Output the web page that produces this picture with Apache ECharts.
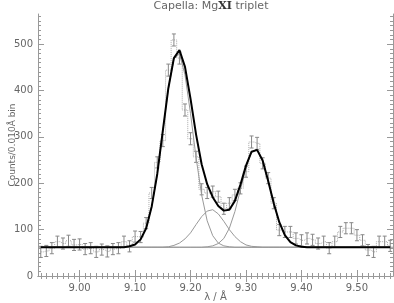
<!DOCTYPE html>
<html>
<head>
<meta charset="utf-8">
<script src="https://cdn.jsdelivr.net/npm/echarts@6/dist/echarts.min.js"></script>
<style>html,body{margin:0;background:#fff}#main{width:394px;height:303px}</style>
</head>
<body>
<div id="main"></div>
<script>
// wavelength bin centres (A), 0.010 A bins
var lambda = [8.93, 8.94, 8.95, 8.96, 8.97, 8.98, 8.99, 9.00, 9.01, 9.02, 9.03, 9.04, 9.05, 9.06, 9.07, 9.08,
              9.09, 9.10, 9.11, 9.12, 9.13, 9.14, 9.15, 9.16, 9.17, 9.18, 9.19, 9.20, 9.21, 9.22, 9.23, 9.24,
              9.25, 9.26, 9.27, 9.28, 9.29, 9.30, 9.31, 9.32, 9.33, 9.34, 9.35, 9.36, 9.37, 9.38, 9.39, 9.40,
              9.41, 9.42, 9.43, 9.44, 9.45, 9.46, 9.47, 9.48, 9.49, 9.50, 9.51, 9.52, 9.53, 9.54, 9.55, 9.56];
// observed counts per bin
var counts = [52, 54, 60, 74, 70, 76, 67, 68, 58, 60, 52, 57, 53, 58, 60, 74,
              64, 85, 84, 114, 179, 245, 292, 444, 509, 470, 358, 296, 257, 187, 179, 182,
              171, 145, 157, 175, 189, 225, 289, 286, 243, 211, 157, 99, 95, 95, 81, 77,
              81, 78, 70, 74, 60, 74, 95, 103, 103, 88, 77, 56, 52, 74, 74, 65];
// 1-sigma errors
var errs = [12, 12, 12, 12, 12, 12, 12, 12, 12, 12, 12, 12, 12, 12, 12, 12,
            12, 12, 12, 12, 12, 12, 13, 13, 13, 13, 13, 13, 12, 12, 12, 12,
            12, 12, 12, 12, 12, 12, 13, 13, 12, 12, 12, 12, 12, 12, 12, 12,
            12, 12, 12, 12, 12, 12, 12, 12, 12, 12, 12, 12, 12, 12, 12, 12];
// total fitted model
var model = [62, 62, 62, 62, 62, 62, 62, 62, 62, 62, 62, 62, 62, 62, 62, 62,
             64, 68, 79, 103, 150, 220, 313, 405, 470, 487, 451, 382, 305, 241, 198, 170,
             151, 141, 143, 162, 197, 238, 268, 272, 249, 205, 157, 116, 88, 73, 66, 63,
             62, 62, 62, 62, 62, 62, 62, 62, 62, 62, 62, 62, 62, 62, 62, 62];
// line components (on top of continuum): resonance, intercombination, forbidden
var lineR = [62, 62, 62, 62, 62, 62, 62, 62, 62, 62, 62, 62, 62, 62, 62, 62,
             64, 68, 79, 103, 149, 220, 312, 404, 468, 479, 434, 350, 255, 175, 119, 87,
             71, 65, 63, 62, 62, 62, 62, 62, 62, 62, 62, 62, 62, 62, 62, 62,
             62, 62, 62, 62, 62, 62, 62, 62, 62, 62, 62, 62, 62, 62, 62, 62];
var lineI = [62, 62, 62, 62, 62, 62, 62, 62, 62, 62, 62, 62, 62, 62, 62, 62,
             62, 62, 62, 62, 62, 62, 62, 63, 66, 71, 80, 93, 111, 128, 140, 143,
             134, 118, 100, 85, 74, 67, 64, 63, 62, 62, 62, 62, 62, 62, 62, 62,
             62, 62, 62, 62, 62, 62, 62, 62, 62, 62, 62, 62, 62, 62, 62, 62];
var lineF = [62, 62, 62, 62, 62, 62, 62, 62, 62, 62, 62, 62, 62, 62, 62, 62,
             62, 62, 62, 62, 62, 62, 62, 62, 62, 62, 62, 62, 62, 62, 63, 65,
             70, 81, 103, 139, 186, 234, 267, 272, 248, 205, 157, 116, 88, 73, 66, 63,
             62, 62, 62, 62, 62, 62, 62, 62, 62, 62, 62, 62, 62, 62, 62, 62];
var continuum = 62;

var xRange = [8.925, 9.565];
var yRange = [0, 565];
var xTicks = [9.0, 9.1, 9.2, 9.3, 9.4, 9.5];
var yTicks = [0, 100, 200, 300, 400, 500];

var xMinor = [], yMinor = [];
for (var i = 893; i <= 956; i++) xMinor.push(i / 100);
for (var j = 0; j <= 560; j += 10) yMinor.push(j);

var axCol = '#999';
var txtCol = '#666';
var font = 'DejaVu Sans';

function xAxis(g, pos, ticks, len, withLabel) {
    return {
        type: 'value', gridIndex: g, position: pos, min: xRange[0], max: xRange[1],
        axisLine: {show: len > 3, lineStyle: {color: axCol, width: 1}},
        axisTick: {show: true, inside: true, length: len, customValues: ticks, lineStyle: {color: axCol}},
        axisLabel: withLabel ? {show: true, customValues: ticks, margin: 7, color: txtCol, fontSize: 10, fontFamily: font,
            align: 'center', formatter: function (v) { return v.toFixed(2); }} : {show: false},
        splitLine: {show: false},
        name: withLabel ? 'λ / Å' : '', nameLocation: 'middle', nameGap: 16, nameMoveOverlap: false,
        nameTextStyle: {color: txtCol, fontSize: 10, fontFamily: font}
    };
}
function yAxis(g, pos, ticks, len, withLabel) {
    return {
        type: 'value', gridIndex: g, position: pos, min: yRange[0], max: yRange[1],
        axisLine: {show: len > 3, lineStyle: {color: axCol, width: 1}},
        axisTick: {show: true, inside: true, length: len, customValues: ticks, lineStyle: {color: axCol}},
        axisLabel: withLabel ? {show: true, customValues: ticks, margin: 5, color: txtCol, fontSize: 10, fontFamily: font,
            verticalAlign: 'middle'} : {show: false},
        splitLine: {show: false},
        name: withLabel ? 'Counts/0.010Å bin' : '', nameLocation: 'middle', nameGap: 21, nameMoveOverlap: false,
        nameTextStyle: {color: txtCol, fontSize: 9, fontFamily: font}
    };
}

var box = {left: 38, right: 1, top: 14, bottom: 27, containLabel: false, outerBoundsMode: 'none'};
var myChart = echarts.init(document.getElementById('main'), null, {renderer: 'canvas'});

var histData = [], errData = [], modelData = [], rData = [], iData = [], fData = [];
for (var k = 0; k < lambda.length; k++) {
    histData.push([lambda[k], counts[k]]);
    errData.push([lambda[k], counts[k], errs[k]]);
    modelData.push([lambda[k], model[k]]);
    rData.push([lambda[k], lineR[k]]);
    iData.push([lambda[k], lineI[k]]);
    fData.push([lambda[k], lineF[k]]);
}

function thin(name, data) {
    return {name: name, type: 'line', data: data, symbol: 'none', smooth: false, z: 3,
        lineStyle: {color: '#999', width: 1}, silent: true};
}

var option = {
    backgroundColor: '#fff',
    animation: false,
    title: {
        text: '{a|Capella: Mg}{b|XI}{a| triplet}',
        left: 211, top: 1, padding: 0, textAlign: 'center',
        textStyle: {fontWeight: 'normal', rich: {
            a: {color: txtCol, fontSize: 11, fontFamily: font, fontWeight: 'normal'},
            b: {color: '#333', fontSize: 11, fontFamily: 'DejaVu Serif', fontWeight: 'bold'}
        }}
    },
    grid: [box, box, box, box].map(function (b) { return Object.assign({}, b); }),
    xAxis: [xAxis(0, 'bottom', xTicks, 6, true), xAxis(1, 'top', xTicks, 6, false),
            xAxis(2, 'bottom', xMinor, 3, false), xAxis(3, 'top', xMinor, 3, false)],
    yAxis: [yAxis(0, 'left', yTicks, 6, true), yAxis(1, 'right', yTicks, 6, false),
            yAxis(2, 'left', yMinor, 3, false), yAxis(3, 'right', yMinor, 3, false)],
    series: [
        {name: 'data', type: 'line', data: histData, step: 'middle', symbol: 'none', z: 1,
            lineStyle: {color: '#aaa', width: 1, type: 'dotted'}},
        {name: 'errors', type: 'custom', data: errData, z: 2, encode: {x: 0, y: 1},
            renderItem: function (params, api) {
                var x = api.value(0), y = api.value(1), e = api.value(2);
                var hi = api.coord([x, y + e]);
                var lo = api.coord([x, y - e]);
                var st = {stroke: '#888', lineWidth: 1};
                return {type: 'group', children: [
                    {type: 'line', shape: {x1: hi[0], y1: hi[1], x2: lo[0], y2: lo[1]}, style: st},
                    {type: 'line', shape: {x1: hi[0] - 2, y1: hi[1], x2: hi[0] + 2, y2: hi[1]}, style: st},
                    {type: 'line', shape: {x1: lo[0] - 2, y1: lo[1], x2: lo[0] + 2, y2: lo[1]}, style: st}
                ]};
            }},
        {name: 'continuum', type: 'line', data: [[xRange[0], continuum], [xRange[1], continuum]], symbol: 'none', z: 3,
            lineStyle: {color: '#999', width: 1}},
        thin('resonance', rData),
        thin('intercombination', iData),
        thin('forbidden', fData),
        {name: 'model', type: 'line', data: modelData, symbol: 'none', z: 5,
            lineStyle: {color: '#000', width: 2}}
    ]
};
myChart.setOption(option);
</script>
</body>
</html>
